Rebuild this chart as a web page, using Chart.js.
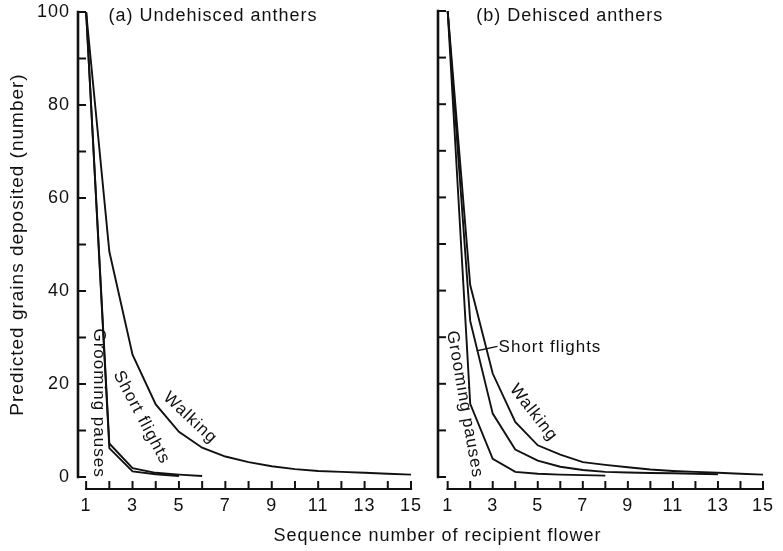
<!DOCTYPE html>
<html>
<head>
<meta charset="utf-8">
<script src="https://cdn.jsdelivr.net/npm/chart.js@4.4.1/dist/chart.umd.min.js"></script>
<style>
  html, body { margin: 0; padding: 0; background: #fff; }
  #wrap { position: relative; width: 783px; height: 551px; }
  #wrap canvas { position: absolute; left: 0; top: 0; }
  #xTitle { position: absolute; left: 92px; width: 691px; top: 525px; text-align: center;
            font: 18px "Liberation Sans", Arial, sans-serif; letter-spacing: 1px; color: #111; }
</style>
</head>
<body>
<div id="wrap">
  <canvas id="chartA" width="783" height="551"></canvas>
  <canvas id="chartB" width="783" height="551"></canvas>
  <div id="xTitle">Sequence number of recipient flower</div>
</div>
<script>
// sequence number of recipient flower
const seqNumbers = [1, 2, 3, 4, 5, 6, 7, 8, 9, 10, 11, 12, 13, 14, 15];
const xTickLabels = [1, 3, 5, 7, 9, 11, 13, 15];
const yTickLabels = [0, 20, 40, 60, 80, 100];

// (a) Undehisced anthers
const groomingA = [100, 6.2, 1.2, 0.6, 0.2];
const shortFlightsA = [100, 7.2, 1.9, 0.9, 0.5, 0.2];
const walkingA = [100, 48.5, 26.3, 15.6, 9.7, 6.3, 4.4, 3.2, 2.3, 1.7, 1.3, 1.1, 0.9, 0.7, 0.5];

// (b) Dehisced anthers
const groomingB = [100, 15.7, 3.9, 1.1, 0.7, 0.5, 0.4, 0.3];
const shortFlightsB = [100, 33.5, 13.6, 5.9, 3.5, 2.2, 1.5, 1.1, 0.95, 0.85, 0.8, 0.7, 0.6];
const walkingB = [100, 41.2, 22.2, 11.8, 6.8, 4.8, 3.2, 2.6, 2.1, 1.6, 1.3, 1.1, 0.9, 0.7, 0.5];

const INK = "#111";
const FONT = '"Liberation Sans", Arial, sans-serif';
Chart.defaults.font.family = FONT;
Chart.defaults.font.size = 18;
Chart.defaults.color = INK;

const toPoints = vals => vals.map((v, i) => ({ x: seqNumbers[i], y: v }));

function lineSet(label, vals) {
    return {
        label: label,
        data: toPoints(vals),
        borderColor: INK,
        borderWidth: 1.9,
        pointRadius: 0,
        fill: false,
        tension: 0,
        clip: false
    };
}

// axes drawn apart like the original: y axis stops at 0, x axis sits below
const offsetAxes = {
    id: "offsetAxes",
    beforeInit(chart) { chart.ctx.letterSpacing = "1px"; },
    beforeDraw(chart) { chart.ctx.letterSpacing = "1px"; },
    afterDatasetsDraw(chart, args, opts) {
        const { ctx, chartArea } = chart;
        const x = chart.scales.x, y = chart.scales.y;
        ctx.save();
        ctx.strokeStyle = INK;
        ctx.lineCap = "square";
        // y axis + ticks every 10
        const x0 = chartArea.left;
        ctx.lineWidth = 2.6;
        ctx.beginPath();
        ctx.moveTo(x0, y.getPixelForValue(0));
        ctx.lineTo(x0, y.getPixelForValue(100));
        ctx.stroke();
        ctx.lineWidth = 2;
        for (let v = 0; v <= 100; v += 10) {
            const py = y.getPixelForValue(v);
            ctx.beginPath();
            ctx.moveTo(x0, py);
            ctx.lineTo(x0 + 7, py);
            ctx.stroke();
        }
        // x axis + ticks every flower
        const yb = chartArea.bottom + 12;
        ctx.lineWidth = 2.2;
        ctx.beginPath();
        ctx.moveTo(x.getPixelForValue(1), yb);
        ctx.lineTo(x.getPixelForValue(15), yb);
        ctx.stroke();
        ctx.lineWidth = 2;
        seqNumbers.forEach(n => {
            const px = x.getPixelForValue(n);
            ctx.beginPath();
            ctx.moveTo(px, yb);
            ctx.lineTo(px, yb - 7);
            ctx.stroke();
        });

        // labels on the curves, placed in data units
        ctx.fillStyle = INK;
        (opts.labels || []).forEach(l => {
            const px = x.getPixelForValue(l.x), py = y.getPixelForValue(l.y);
            ctx.save();
            ctx.translate(px, py);
            ctx.rotate((l.angle || 0) * Math.PI / 180);
            ctx.font = (l.size || 17) + "px " + FONT;
            ctx.textAlign = l.align || "center";
            ctx.textBaseline = "middle";
            ctx.fillText(l.text, 0, 0);
            ctx.restore();
        });
        (opts.leaders || []).forEach(s => {
            ctx.lineWidth = 1.4;
            ctx.beginPath();
            ctx.moveTo(x.getPixelForValue(s.x1), y.getPixelForValue(s.y1));
            ctx.lineTo(x.getPixelForValue(s.x2), y.getPixelForValue(s.y2));
            ctx.stroke();
        });
        ctx.restore();
    }
};

function makeChart(id, sets, cfg) {
    return new Chart(document.getElementById(id), {
        type: "line",
        data: { datasets: sets },
        options: {
            responsive: false,
            animation: false,
            devicePixelRatio: 1,
            layout: { padding: cfg.padding },
            plugins: {
                legend: { display: false },
                tooltip: { enabled: false },
                offsetAxes: { labels: cfg.labels, leaders: cfg.leaders || [] }
            },
            scales: {
                x: {
                    type: "linear",
                    min: cfg.xMin,
                    max: 15,
                    grid: { display: false },
                    border: { display: false },
                    afterBuildTicks: s => { s.ticks = xTickLabels.map(v => ({ value: v })); },
                    afterFit: s => { s.height = 74; },
                    ticks: { padding: 10, maxRotation: 0, autoSkip: false }
                },
                y: {
                    min: 0,
                    max: 100,
                    grid: { display: false },
                    border: { display: false },
                    afterBuildTicks: s => { s.ticks = yTickLabels.map(v => ({ value: v })); },
                    afterFit: s => { s.width = cfg.yWidth; },
                    ticks: { display: cfg.yLabels, padding: 0 },
                    title: {
                        display: cfg.yLabels,
                        text: "Predicted grains deposited (number)",
                        font: { size: 19 },
                        padding: { top: 6, bottom: 0 }
                    }
                }
            }
        },
        plugins: [offsetAxes]
    });
}

makeChart("chartA", [
    lineSet("Grooming pauses", groomingA),
    lineSet("Short flights", shortFlightsA),
    lineSet("Walking", walkingA)
], {
    padding: { left: 0, top: 12, right: 372, bottom: 0 },
    xMin: 0.65,
    yWidth: 78,
    yLabels: true,
    labels: [
        { text: "(a) Undehisced anthers", x: 1.96, y: 99.2, align: "left", size: 18 },
        { text: "Grooming pauses", x: 1.56, y: 15.9, angle: 90 },
        { text: "Short flights", x: 3.39, y: 12.8, angle: 62 },
        { text: "Walking", x: 5.48, y: 12.7, angle: 43 }
    ]
});

makeChart("chartB", [
    lineSet("Grooming pauses", groomingB),
    lineSet("Short flights", shortFlightsB),
    lineSet("Walking", walkingB)
], {
    padding: { left: 438, top: 11, right: 12, bottom: 0 },
    xMin: 0.57,
    yWidth: 0,
    yLabels: false,
    labels: [
        { text: "(b) Dehisced anthers", x: 2.27, y: 99.0, align: "left", size: 18 },
        { text: "Grooming pauses", x: 1.75, y: 15.6, angle: 80 },
        { text: "Short flights", x: 3.26, y: 27.9, align: "left" },
        { text: "Walking", x: 4.81, y: 13.8, angle: 52 }
    ],
    leaders: [{ x1: 2.32, y1: 27.1, x2: 3.18, y2: 28.0 }]
});
</script>
</body>
</html>
